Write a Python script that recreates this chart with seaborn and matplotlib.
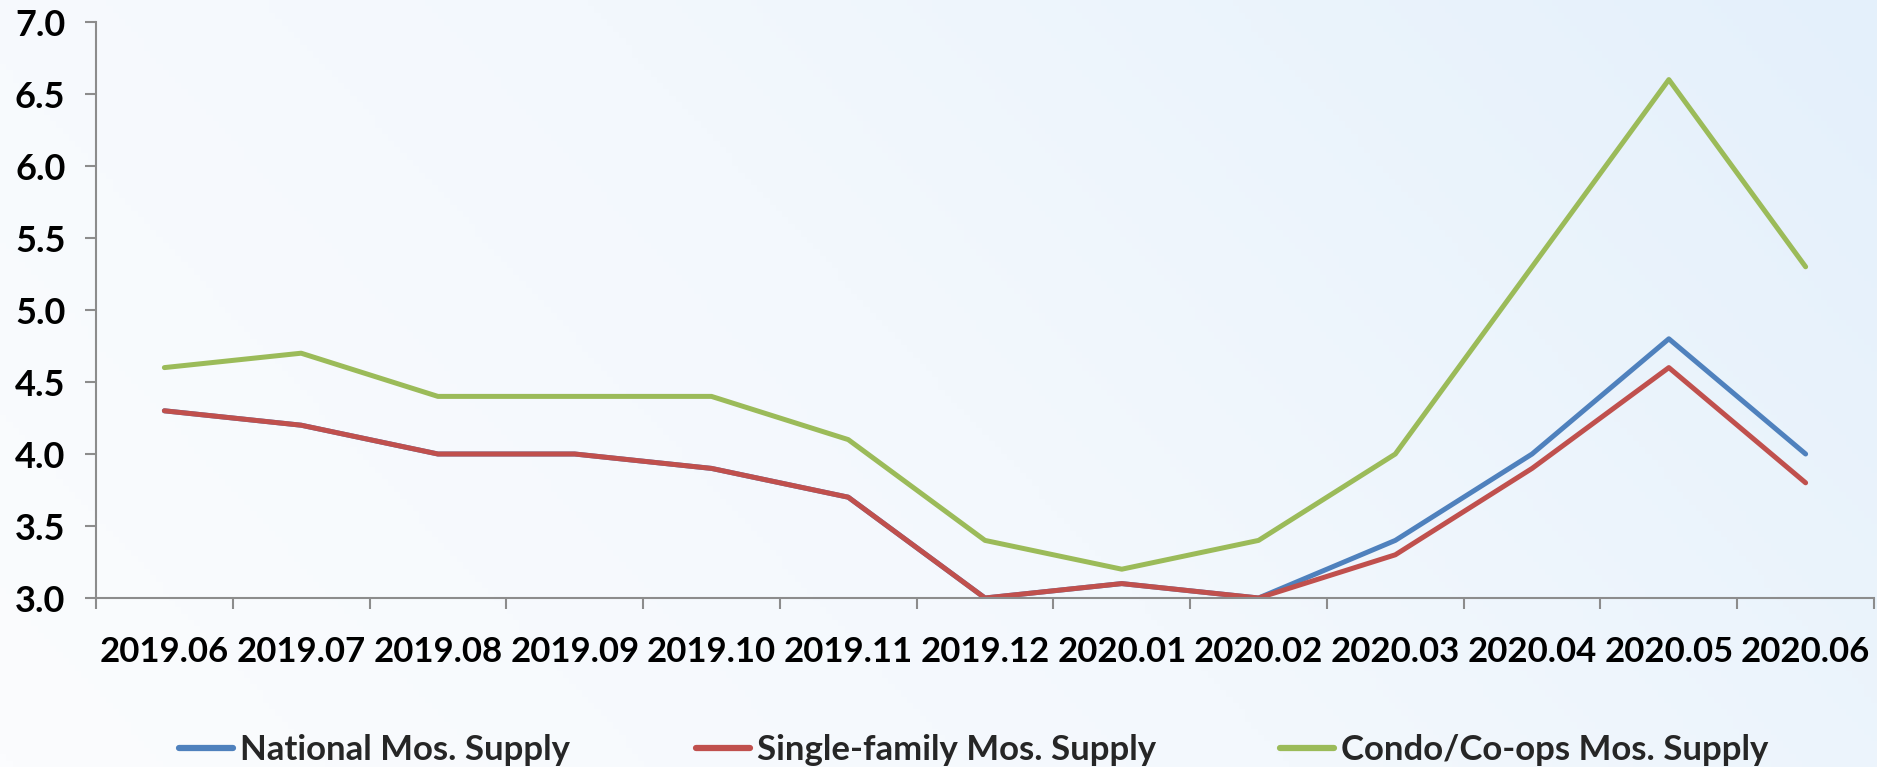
import numpy as np
import pandas as pd
import matplotlib
matplotlib.use("Agg")
import matplotlib.pyplot as plt
from matplotlib.colors import LinearSegmentedColormap
import seaborn as sns

months = ["2019.06", "2019.07", "2019.08", "2019.09", "2019.10", "2019.11", "2019.12",
          "2020.01", "2020.02", "2020.03", "2020.04", "2020.05", "2020.06"]
national = [4.3, 4.2, 4.0, 4.0, 3.9, 3.7, 3.0, 3.1, 3.0, 3.4, 4.0, 4.8, 4.0]
single_family = [4.3, 4.2, 4.0, 4.0, 3.9, 3.7, 3.0, 3.1, 3.0, 3.3, 3.9, 4.6, 3.8]
condo = [4.6, 4.7, 4.4, 4.4, 4.4, 4.1, 3.4, 3.2, 3.4, 4.0, 5.3, 6.6, 5.3]
series_names = ["National Mos. Supply", "Single-family Mos. Supply", "Condo/Co-ops Mos. Supply"]
y_ticks = [3.0, 3.5, 4.0, 4.5, 5.0, 5.5, 6.0, 6.5, 7.0]

sns.set_theme(style="white")
plt.rcParams['font.family'] = ['Lato', 'DejaVu Sans']
plt.rcParams['font.weight'] = 'bold'

df = pd.DataFrame({
    "idx": list(range(len(months))) * 3,
    "value": national + single_family + condo,
    "series": [series_names[0]] * len(months) + [series_names[1]] * len(months) + [series_names[2]] * len(months),
})

fig = plt.figure(figsize=(18.77, 7.67), dpi=100)

# background gradient
bg = fig.add_axes([0, 0, 1, 1], zorder=-10)
cmap = LinearSegmentedColormap.from_list("bg", ["#FBFCFE", "#F3F8FD", "#E4F0FB"])
gx, gy = np.meshgrid(np.linspace(0, 1, 300), np.linspace(0, 1, 120))
grad = 0.8 * gx + 0.3 * gy
bg.imshow(grad, cmap=cmap, aspect="auto", extent=[0, 1, 0, 1], origin="lower", vmin=0, vmax=1.1)
bg.axis("off")

ax = fig.add_axes([96 / 1877, 1 - 598 / 767, 1778 / 1877, 576 / 767])
ax.patch.set_alpha(0)

palette = {series_names[0]: "#4F81BD", series_names[1]: "#C0504D", series_names[2]: "#9BBB59"}
sns.lineplot(data=df, x="idx", y="value", hue="series", palette=palette, linewidth=3.6,
             ax=ax, legend=False, sort=False)
for ln in ax.lines:
    ln.set_solid_capstyle("round")
    ln.set_solid_joinstyle("round")

ax.set_xlim(-0.5, len(months) - 0.5)
ax.set_ylim(3.0, 7.0)
ax.set_xlabel("")
ax.set_ylabel("")

ax.set_xticks(range(len(months)))
ax.set_xticklabels(months, fontsize=25, fontweight="bold", color="black")
ax.set_xticks(np.arange(-0.5, len(months), 1.0), minor=True)
ax.tick_params(axis="x", which="major", length=0, pad=27)
ax.tick_params(axis="x", which="minor", length=8, width=1.5, color="#8C8C8C", direction="out", bottom=True)

ax.set_yticks(y_ticks)
ax.set_yticklabels([f"{v:.1f}" for v in y_ticks], fontsize=26, fontweight="bold", color="black")
ax.tick_params(axis="y", which="major", length=8, width=1.5, color="#8C8C8C", direction="out", left=True, pad=14)

for side in ["top", "right"]:
    ax.spines[side].set_visible(False)
for side in ["left", "bottom"]:
    ax.spines[side].set_color("#8C8C8C")
    ax.spines[side].set_linewidth(1.5)

legend_x = [179, 696, 1280]
for name, lx in zip(series_names, legend_x):
    h = plt.Line2D([0], [0], color=palette[name], linewidth=4.5, solid_capstyle="round")
    leg = fig.legend([h], [name], loc="center left", bbox_to_anchor=(lx / 1877, 1 - 750 / 767),
                     frameon=False, prop={"size": 25, "weight": "bold"}, handlelength=1.55,
                     handletextpad=0.2, borderpad=0, borderaxespad=0)

fig.savefig("out.png", dpi=100)
